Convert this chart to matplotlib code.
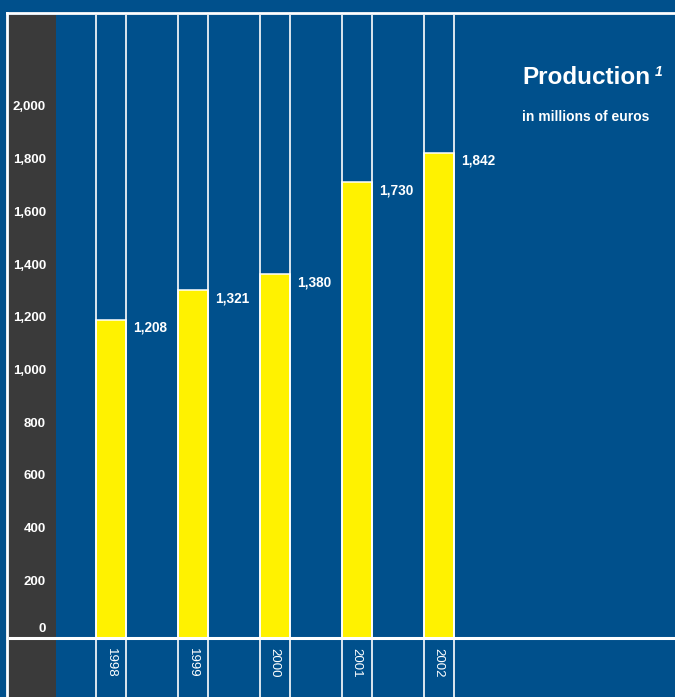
import matplotlib
matplotlib.use("Agg")
import matplotlib.pyplot as plt
from matplotlib.lines import Line2D

years = ['1998', '1999', '2000', '2001', '2002']
production = [1208, 1321, 1380, 1730, 1842]
yticks = [0, 200, 400, 600, 800, 1000, 1200, 1400, 1600, 1800, 2000]

blue = '#00508c'
grey = '#3a3a3a'
yellow = '#fff200'
white = 'white'
font = ['Liberation Sans', 'DejaVu Sans']

W, H = 675, 697
fig = plt.figure(figsize=(W / 100, H / 100), dpi=100, facecolor=blue)

# axes: pixels x 9..675, y 15..697 (from top)
ax = fig.add_axes([9 / W, 0, (W - 9) / W, (H - 15) / H])
ax.set_facecolor(blue)
for s in ax.spines.values():
    s.set_visible(False)
ax.set_xticks([])
ax.set_yticks([])

step = 82.0          # pixels between bars
upx = 0.2635         # pixels per unit
x0 = -(110.5 - 9) / step
ax.set_xlim(x0, x0 + (W - 9) / step)
ax.set_ylim(-(H - 638) / upx, (638 - 15) / upx)

def px(n):
    return n / step

# grey axis column
ax.axvspan(x0, x0 + px(56 - 9), color=grey, lw=0, zorder=0)

xs = list(range(len(years)))
bw = px(30)
ax.bar(xs, production, width=bw, color=yellow, edgecolor=white, linewidth=1.1, zorder=2)
for x in xs:
    ax.axvline(x - bw / 2, color=white, lw=1.2, zorder=3)
    ax.axvline(x + bw / 2, color=white, lw=1.2, zorder=3)
ax.axhline(0, color=white, lw=2.2, zorder=4)

for t in yticks:
    off = max(t * upx + 3.5, 9) - t * upx   # label sits a little above its value
    ax.annotate(f'{t:,}', (x0 + px(46 - 9), t), xytext=(0, off * 0.72), textcoords='offset points',
                ha='right', va='center', color=white, fontsize=9.5, fontweight='bold', family=font)

for x, v in zip(xs, production):
    ax.annotate(f'{v:,}', (x + bw / 2 + px(8), v), xytext=(0, -0.8), textcoords='offset points',
                ha='left', va='top', color=white, fontsize=9.8, fontweight='bold', family=font)
    ax.text(x, -(648 - 638) / upx, years[x], rotation=-90, ha='center', va='top',
            color=white, fontsize=9.5, family=font)

# title
fig.text(522 / W, 1 - 77 / H, 'Production', ha='left', va='center', color=white,
         fontsize=17.5, fontweight='bold', family=font)
fig.text(655 / W, 1 - 72 / H, '1', ha='left', va='center', color=white,
         fontsize=10, fontweight='bold', style='italic', family=font)
fig.text(522 / W, 1 - 117 / H, 'in millions of euros', ha='left', va='center', color=white,
         fontsize=10, fontweight='bold', family=font)

# white frame (top and left)
fig.add_artist(Line2D([7 / W, 1], [1 - 13 / H] * 2, color=white, lw=2, transform=fig.transFigure))
fig.add_artist(Line2D([7 / W] * 2, [0, 1 - 13 / H], color=white, lw=2, transform=fig.transFigure))

fig.savefig('out.png', dpi=100, facecolor=blue)
